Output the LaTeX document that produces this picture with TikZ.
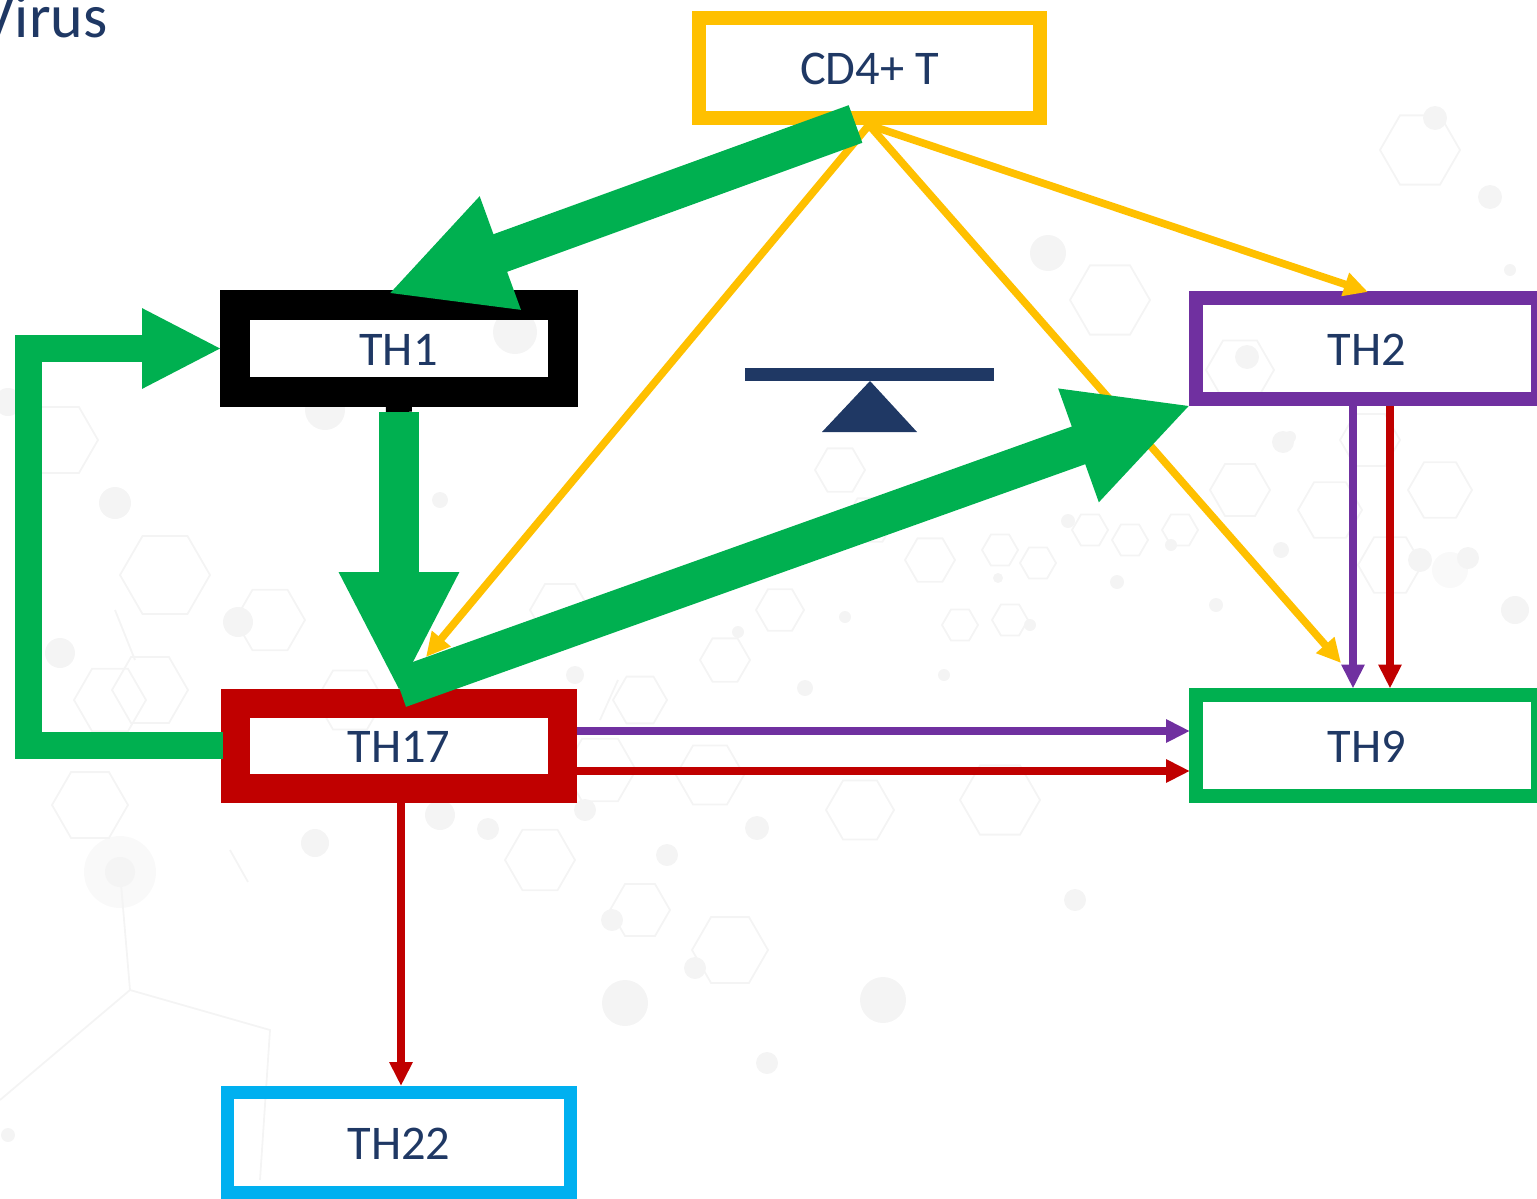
\documentclass[tikz,border=0pt]{standalone}
\usepackage{fontspec}
\setmainfont{Carlito}
\usetikzlibrary{arrows.meta}
\definecolor{navy}{HTML}{1F3864}
\definecolor{cgreen}{HTML}{00B050}
\definecolor{cgold}{HTML}{FFC000}
\definecolor{cred}{HTML}{C00000}
\definecolor{cpurple}{HTML}{7030A0}
\definecolor{cblue}{HTML}{00B0F0}
\definecolor{faint}{HTML}{F4F4F4}
\definecolor{fainter}{HTML}{F9F9F9}
\tikzset{
  cellbox/.style={draw,inner sep=0pt,outer sep=0pt,text=navy,text height=16.5pt,text depth=0pt,font=\fontsize{24.2}{26}\selectfont},
  thin arrow/.style={line width=4pt,-{Triangle[length=12pt,width=11pt]}},
  gold arrow/.style={cgold,line width=3.8pt,-{Triangle[length=12pt,width=11.5pt]}},
  big arrow/.style={cgreen,line width=20pt,-{Triangle[length=60pt,width=55.6pt]}},
  hexline/.style={faint,line width=0.9pt},
  blob/.style={fill=faint}
}
\newcommand{\hexa}[3]{\draw[hexline] (#1+#3,#2) -- ++(-#3*.5,#3*.866) -- ++(-#3,0) -- ++(-#3*.5,-#3*.866) -- ++(#3*.5,-#3*.866) -- ++(#3,0) -- cycle;}
\begin{document}
\begin{tikzpicture}[x=0.5pt,y=-0.5pt]
\useasboundingbox (0,0) rectangle (1537,1199);
\clip (0,0) rectangle (1537,1199);
% faint molecular background
\fill[fainter] (120,872) circle (36);
\fill[fainter] (1450,570) circle (18);
\foreach \a/\b/\r in {115/503/16,60/653/15,238/622/15,120/872/15,315/843/14,440/815/15,488/829/11,585/810/11,667/855/11,757/828/12,612/920/11,695/968/11,625/1003/23,883/1000/23,767/1063/11,1075/900/11,1247/357/12,1283/442/11,1468/558/11,1515/610/14,1490/197/12,1435/118/12,1048/253/18,8/402/14,325/410/20,515/332/22,440/500/8,1117/582/7,1068/521/7,1171/545/6,1216/605/7,1281/550/8,1290/437/6,1420/560/12,1510/270/6,805/688/8,845/617/6,738/632/6,944/675/6,1030/625/6,998/578/5,575/675/9,8/1135/7}
  {\fill[blob] (\a,\b) circle (\r);}
\foreach \a/\b/\r in {60/440/38,165/575/45,110/700/36,90/805/38,270/620/35,150/690/38,350/700/34,640/700/27,725/660/25,780/610/24,640/910/30,540/860/35,600/770/36,710/775/34,860/810/34,1000/550/18,1038/563/18,1090/530/18,1130/540/18,1180/530/18,1010/620/18,960/625/18,1240/490/30,1440/490/32,1390/565/32,1330/510/32,1370/440/30,1240/370/34,1420/150/40,1110/300/40,840/470/25,870/520/25,930/560/25,1000/800/40,730/950/38,560/610/30}
  {\hexa{\a}{\b}{\r}}
\draw[hexline] (0,1100) -- (130,990) -- (270,1030) -- (260,1180);
\draw[hexline] (130,990) -- (120,872) (230,850) -- (248,882) (115,610) -- (135,660) (618,680) -- (600,720);
% boxes
\node[cellbox,draw=cgold,line width=7pt,minimum width=170.5pt,minimum height=50pt] (cd4) at (869.5,68) {CD4+ T};
\node[cellbox,draw=black,line width=15pt,minimum width=164pt,minimum height=43.5pt] (th1) at (398.5,348.5) {TH1};
\node[cellbox,draw=cpurple,line width=7pt,minimum width=171pt,minimum height=50.5pt] (th2) at (1367,348.5) {TH2};
\node[cellbox,draw=cred,line width=14.5pt,minimum width=163.5pt,minimum height=42.5pt] (th17) at (399,745.5) {TH17};
\node[cellbox,draw=cgreen,line width=7pt,minimum width=171pt,minimum height=50.5pt] (th9) at (1367,745.5) {TH9};
\node[cellbox,draw=cblue,line width=6.5pt,minimum width=171.5pt,minimum height=50pt] (th22) at (399,1142.5) {TH22};
\node[anchor=base east,text=navy,font=\fontsize{31}{33}\selectfont,inner sep=0pt] (virus) at (108,38) {Virus};
% seesaw
\fill[navy] (745,368) rectangle (994,381);
\fill[navy] (870,381) -- (917,432) -- (822,432) -- cycle;
% free ends
\coordinate (g0) at (869,125);
\coordinate (ga) at (426,657);
\coordinate (gb) at (1368,292);
\coordinate (gc) at (1341,663);
\coordinate (p1s) at (1353,406); \coordinate (p1e) at (1353,688.5);
\coordinate (r1s) at (1390,406); \coordinate (r1e) at (1390,688.5);
\coordinate (p2s) at (577,731); \coordinate (p2e) at (1190,731);
\coordinate (r2s) at (577,771); \coordinate (r2e) at (1190,771);
\coordinate (r3s) at (401,803); \coordinate (r3e) at (401,1086);
\coordinate (b1s) at (855.5,124); \coordinate (b1e) at (387.5,294);
\coordinate (b2s) at (399,412); \coordinate (b2e) at (399,692);
\coordinate (b3s) at (399.3,688); \coordinate (b3e) at (1191.5,405);
\coordinate (b4s) at (223,745.5); \coordinate (b4a) at (28.5,745.5);
\coordinate (b4b) at (28.5,348.5); \coordinate (b4e) at (222,348.5);
% thin arrows
\draw[gold arrow] (g0) -- (ga);
\draw[gold arrow] (g0) -- (gb);
\draw[gold arrow] (g0) -- (gc);
\draw[thin arrow,cpurple] (p1s) -- (p1e);
\draw[thin arrow,cred] (r1s) -- (r1e);
\draw[thin arrow,cpurple] (p2s) -- (p2e);
\draw[thin arrow,cred] (r2s) -- (r2e);
\draw[thin arrow,cred] (r3s) -- (r3e);
% black stub under green arrow
\draw[black,line width=13pt] (th1.south) -- (b2s);
% big green arrows
\draw[big arrow] (b1s) -- (b1e);
\draw[big arrow] (b2s) -- (b2e);
\draw[big arrow] (b3s) -- (b3e);
\draw[cgreen,line width=13.5pt,miter limit=10,-{Triangle[length=40pt,width=37.2pt]}] (b4s) -- (b4a) -- (b4b) -- (b4e);
\end{tikzpicture}
\end{document}
